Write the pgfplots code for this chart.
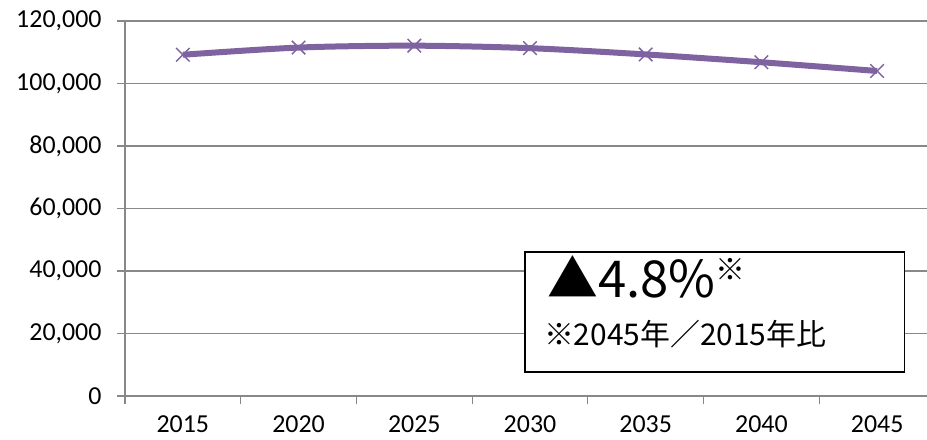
\documentclass[border=0pt]{standalone}
\usepackage{pgfplots}
\pgfplotsset{compat=1.18}
\usepackage{fontspec}
\setmainfont{Carlito}
\newfontfamily\jpfont{Noto Sans CJK JP}
\definecolor{linepurple}{HTML}{7F63A1}
\definecolor{gridgray}{HTML}{888888}

\begin{document}
\begin{tikzpicture}
\useasboundingbox (0,0) rectangle (927bp,440bp);
\clip (0,0) rectangle (927bp,440bp);
\begin{axis}[
  at={(125bp,44bp)}, anchor=south west,
  scale only axis, width=810bp, height=375bp,
  xmin=-0.5, xmax=6.5, ymin=0, ymax=120000,
  axis x line*=bottom, axis y line*=left,
  axis line style={gridgray, line width=1.1bp},
  xtick={0,...,6},
  xticklabels={2015,2020,2025,2030,2035,2040,2045},
  major x tick style={draw=none},
  minor xtick={-0.5,0.5,...,6.5},
  ytick={0,20000,...,120000},
  ymajorgrids,
  grid style={gridgray, line width=1.1bp},
  tick style={gridgray, line width=1.1bp},
  xtick align=outside, ytick align=outside,
  major tick length=8bp, minor tick length=8bp,
  scaled y ticks=false,
  /pgf/number format/.cd, fixed, 1000 sep={,}, assume math mode=true,
  /pgfplots/.cd,
  tick label style={font=\fontsize{26}{30}\selectfont, text=black},
  yticklabel style={xshift=-12bp},
  xticklabel style={inner ysep=0.5bp, yshift=-11bp},
  clip=false,
]
\addplot[linepurple, line width=6bp, smooth, mark=x, mark size=9.5bp,
  mark options={line width=1.5bp, solid}]
  coordinates {(0,109200) (1,111500) (2,112100) (3,111300) (4,109300) (5,106800) (6,104000)};

% note box
\draw[black, line width=1.2bp, fill=white]
  (axis cs:2.957,46080) rectangle (axis cs:6.233,7680);
\node[anchor=base west, inner sep=0, font=\jpfont\fontsize{51}{55}\selectfont]
  at (axis cs:3.147,31360) {▲4.8\%\raisebox{17bp}{\fontsize{30}{32}\selectfont ※}};
\node[anchor=base west, inner sep=0, font=\jpfont\fontsize{30}{33}\selectfont]
  at (axis cs:3.12,16000) {※2045年／2015年比};
\end{axis}
\end{tikzpicture}
\end{document}
